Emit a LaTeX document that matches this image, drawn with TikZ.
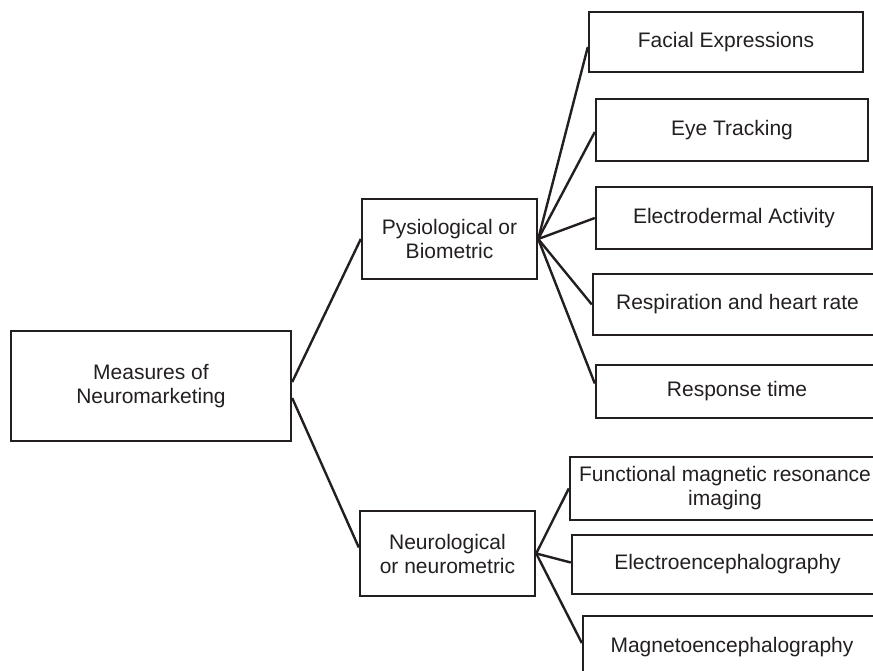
\documentclass[tikz,border=0pt]{standalone}
\usepackage{fontspec}
\setmainfont{Liberation Sans}
\usepackage{tikz}
\usetikzlibrary{positioning, calc}
\definecolor{ink}{RGB}{35,31,32}
\tikzset{
  box/.style={draw=ink, text=ink, line width=1.2pt, align=center, inner sep=1pt,
    font=\fontsize{10.5}{12}\selectfont},
  link/.style={draw=ink, line width=1.2pt}
}

\begin{document}
\begin{tikzpicture}[x=0.5pt, y=0.5pt]
  \useasboundingbox (0,0) rectangle (873,670);
  % root and the two groups
  \node[box, minimum width=140pt, minimum height=55pt] (root) at (151,284) {Measures of\\Neuromarketing};
  \node[box, minimum width=87.5pt, minimum height=40pt] (phys) at (449.5,431) {Pysiological or\\Biometric};
  \node[box, minimum width=87.5pt, minimum height=42.5pt] (neuro) at (447.5,116.5) {Neurological\\or neurometric};
  % physiological measures
  \node[box, minimum width=137pt, minimum height=30pt] (facial) at (726,628) {Facial Expressions};
  \node[box, minimum width=136pt, minimum height=31pt] (eye) at (732,540) {Eye Tracking};
  \node[box, minimum width=138pt, minimum height=31pt] (eda) at (734,452) {Electrodermal Activity};
  \node[box, minimum width=144.5pt, minimum height=30.5pt] (resp) at (737.5,365.5) {Respiration and heart rate};
  \node[box, minimum width=141pt, minimum height=26.5pt] (rtime) at (737,278.5) {Response time};
  % neurological measures
  \node[box, minimum width=155pt, minimum height=31.5pt] (fmri) at (725,181.5) {Functional magnetic resonance\\imaging};
  \node[box, minimum width=155.5pt, minimum height=29.5pt] (eeg) at (727.5,105.5) {Electroencephalography};
  \node[box, minimum width=149pt, minimum height=31pt] (meg) at (732,23) {Magnetoencephalography};
  % connectors
  \draw[link] ([yshift=2pt]root.east) -- (phys.west);
  \draw[link] ([yshift=-6pt]root.east) -- ([yshift=3pt]neuro.west);
  \draw[link] (phys.east) -- ([yshift=-2.5pt]facial.west);
  \draw[link] (phys.east) -- ([yshift=-1pt]eye.west);
  \draw[link] (phys.east) -- (eda.west);
  \draw[link] (phys.east) -- (resp.west);
  \draw[link] (phys.east) -- ([yshift=4pt]rtime.west);
  \draw[link] (neuro.east) -- (fmri.west);
  \draw[link] (neuro.east) -- ([yshift=1pt]eeg.west);
  \draw[link] (neuro.east) -- ([yshift=2pt]meg.west);
\end{tikzpicture}
\end{document}
